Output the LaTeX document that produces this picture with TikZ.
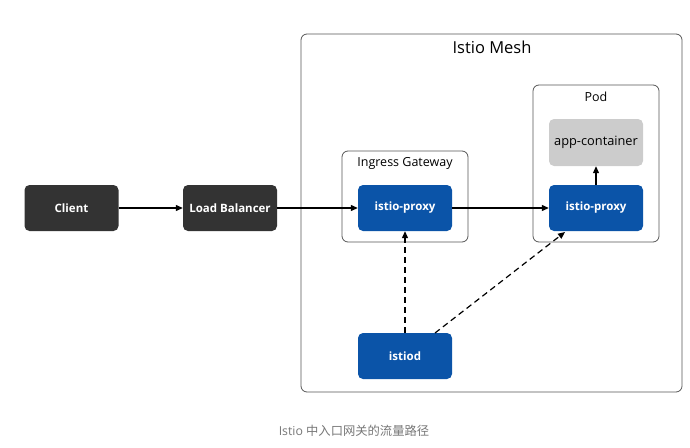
\documentclass[tikz,border=0pt]{standalone}
\usepackage{fontspec}
\setmainfont{Open Sans}
\newfontfamily\cjk{Noto Sans CJK SC}
\usetikzlibrary{arrows.meta}
\definecolor{darkbox}{HTML}{333333}
\definecolor{bluebox}{HTML}{0B54A8}
\definecolor{graybox}{HTML}{CCCCCC}
\definecolor{framecol}{HTML}{555555}
\definecolor{captioncol}{HTML}{777777}
\tikzset{
  x=1pt, y=-1pt,
  dark/.style={fill=darkbox, draw=none, rounded corners=5pt, minimum width=94pt, minimum height=46pt, inner sep=0pt, text=white, font=\fontsize{11.5}{14}\selectfont\bfseries},
  blue/.style={fill=bluebox, draw=none, rounded corners=5pt, minimum width=94pt, minimum height=46pt, inner sep=0pt, text=white, font=\fontsize{11.5}{14}\selectfont\bfseries},
  gray/.style={fill=graybox, draw=none, rounded corners=5pt, minimum width=94pt, minimum height=47pt, inner sep=0pt, text=black, font=\fontsize{12.8}{15}\selectfont},
  frame/.style={draw=framecol, line width=0.8pt, rounded corners=6pt},
  lbl/.style={inner sep=0pt, font=\fontsize{12.5}{15}\selectfont},
  arr/.style={-{Triangle[length=7pt,width=6pt]}, line width=1.2pt, black},
  darr/.style={arr, dash pattern=on 6pt off 4pt},
}
\begin{document}
\begin{tikzpicture}
\useasboundingbox (0,0) rectangle (690,447);
% containers
\draw[frame] (301,34) rectangle (682,392);
\node[inner sep=0pt, font=\fontsize{16.5}{19}\selectfont] (meshlbl) at (492,47) {Istio Mesh};
\draw[frame] (342,151) rectangle (468,242);
\node[lbl] (iglbl) at (405,163) {Ingress Gateway};
\draw[frame] (533,85) rectangle (659,242);
\node[lbl] (podlbl) at (596,97) {Pod};
% nodes
\node[dark] (client) at (71.5,208) {Client};
\node[dark] (lb) at (230,208) {Load Balancer};
\node[blue] (proxy1) at (405,208) {istio-proxy};
\node[blue] (proxy2) at (596,208) {istio-proxy};
\node[gray] (app) at (596,142.5) {app-container};
\node[blue] (istiod) at (405,356) {istiod};
\coordinate (dtip) at (565,232);
\coordinate (dstart) at (435,333);
% connectors
\draw[arr] (client) -- (lb);
\draw[arr] (lb) -- (proxy1);
\draw[arr] (proxy1) -- (proxy2);
\draw[arr] (proxy2) -- (app);
\draw[darr] (istiod) -- (proxy1);
\draw[darr] (dstart) -- (dtip);
% caption
\node[inner sep=0pt, text=captioncol, font=\fontsize{12.3}{14}\selectfont] (cap) at (354,431) {Istio {\cjk 中入口网关的流量路径}};
\end{tikzpicture}
\end{document}
